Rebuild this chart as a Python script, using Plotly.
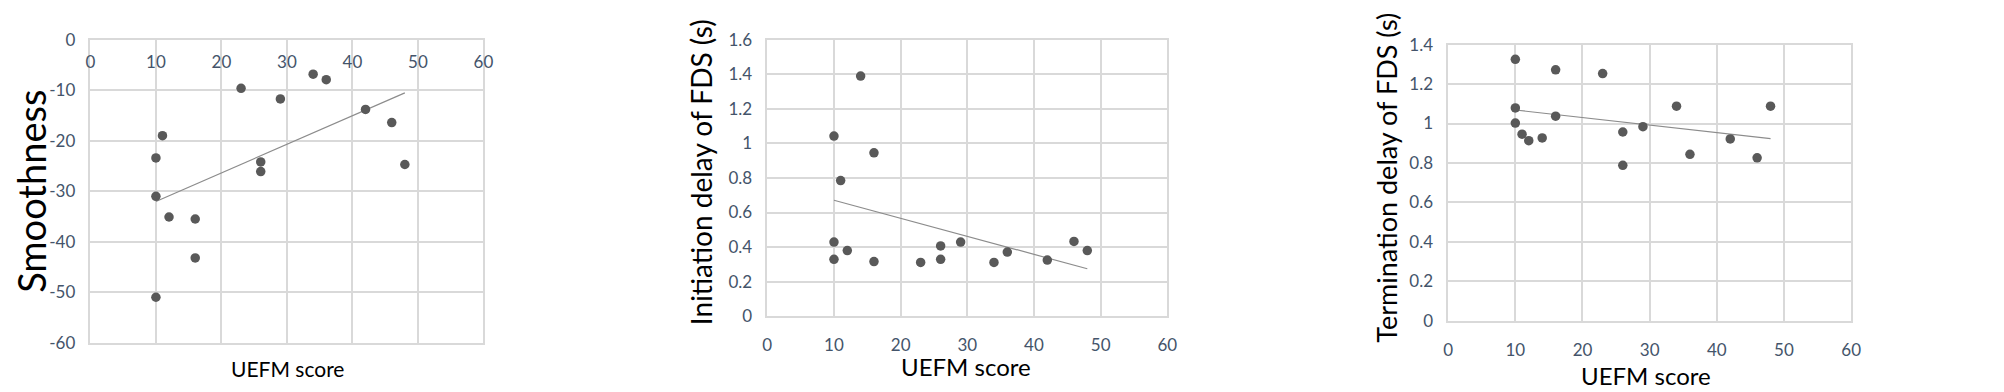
import numpy as np
import plotly.graph_objects as go

# ---------------- data ----------------
uefm_smooth = [10, 10, 10, 11, 12, 16, 16, 23, 26, 26, 29, 34, 36, 42, 46, 48]
smoothness = [-23.4, -31.0, -51.0, -19.0, -35.1, -35.5, -43.2, -9.6, -24.2, -26.1,
              -11.7, -6.8, -7.9, -13.8, -16.4, -24.7]

uefm_init = [10, 10, 10, 11, 12, 14, 16, 16, 23, 26, 26, 29, 34, 36, 42, 46, 48]
init_delay = [1.043, 0.429, 0.329, 0.785, 0.380, 1.390, 0.946, 0.316, 0.311, 0.407,
              0.329, 0.429, 0.311, 0.371, 0.325, 0.433, 0.380]

uefm_term = [10, 10, 10, 11, 12, 14, 16, 16, 23, 26, 26, 29, 34, 36, 42, 46, 48]
term_delay = [1.325, 1.079, 1.002, 0.946, 0.913, 0.927, 1.272, 1.037, 1.253, 0.957,
              0.788, 0.984, 1.088, 0.844, 0.922, 0.826, 1.088]

x_ticks = [0, 10, 20, 30, 40, 50, 60]
smooth_ticks = [-60, -50, -40, -30, -20, -10, 0]
smooth_tick_labels = ["-60", "-50", "-40", "-30", "-20", "-10", "0"]
init_ticks = [0, 0.2, 0.4, 0.6, 0.8, 1.0, 1.2, 1.4, 1.6]
init_tick_labels = ["0", "0.2", "0.4", "0.6", "0.8", "1", "1.2", "1.4", "1.6"]
term_ticks = [0, 0.2, 0.4, 0.6, 0.8, 1.0, 1.2, 1.4]
term_tick_labels = ["0", "0.2", "0.4", "0.6", "0.8", "1", "1.2", "1.4"]

x_title = "UEFM score"
y_titles = ["Smoothness", "Initiation delay of FDS (s)", "Termination delay of FDS (s)"]

# ---------------- style ----------------
W, H = 2004, 392
FONT = "Lato"
TICK_COLOR = "#44546A"
GRID = "#d9d9d9"
MARKER = "#595959"
TREND = "#8c8c8c"
TICKFONT = dict(family=FONT, size=17, color=TICK_COLOR)

def px_x(v):
    return v / W

def px_y(v):
    return 1 - v / H

fig = go.Figure()

panels = [
    dict(x=uefm_smooth, y=smoothness, xd=(78, 474), yd=(22, 342),
         yr=(smooth_ticks[0], smooth_ticks[-1]), tv=smooth_ticks, tt=smooth_tick_labels),
    dict(x=uefm_init, y=init_delay, xd=(760, 1163), yd=(22, 314),
         yr=(init_ticks[0], init_ticks[-1]), tv=init_ticks, tt=init_tick_labels),
    dict(x=uefm_term, y=term_delay, xd=(1446, 1852), yd=(27, 319),
         yr=(term_ticks[0], term_ticks[-1]), tv=term_ticks, tt=term_tick_labels),
]

for i, p in enumerate(panels, start=1):
    xa = "x" if i == 1 else f"x{i}"
    ya = "y" if i == 1 else f"y{i}"
    xs = np.array(p["x"], dtype=float)
    ys = np.array(p["y"], dtype=float)
    slope, icpt = np.polyfit(xs, ys, 1)
    xt = np.array([xs.min(), xs.max()])
    fig.add_trace(go.Scatter(x=xt, y=slope * xt + icpt, mode="lines",
                             line=dict(color=TREND, width=1.2),
                             xaxis=xa, yaxis=ya, showlegend=False, hoverinfo="skip"))
    fig.add_trace(go.Scatter(x=xs, y=ys, mode="markers",
                             marker=dict(color=MARKER, size=9.5),
                             xaxis=xa, yaxis=ya, showlegend=False))

    xkey = "xaxis" if i == 1 else f"xaxis{i}"
    ykey = "yaxis" if i == 1 else f"yaxis{i}"
    xaxis = dict(domain=[px_x(p["xd"][0]), px_x(p["xd"][1])],
                 range=[x_ticks[0], x_ticks[-1]], tickvals=x_ticks,
                 anchor=ya, showgrid=True, gridcolor=GRID, gridwidth=1.5,
                 showline=True, linecolor=GRID, linewidth=1.5, mirror=True,
                 zeroline=False, ticks="", tickfont=TICKFONT, fixedrange=True,
                 side="bottom", ticklabelstandoff=13, ticklabeloverflow="allow")
    if i == 1:
        xaxis.update(showticklabels=False)
    yaxis = dict(domain=[px_y(p["yd"][1]), px_y(p["yd"][0])], range=list(p["yr"]),
                 tickvals=p["tv"], ticktext=p["tt"], anchor=xa, showgrid=True,
                 gridcolor=GRID, gridwidth=1.5, showline=True, linecolor=GRID,
                 linewidth=1.5, mirror=True, zeroline=False, ticks="",
                 ticklabelstandoff=10, ticklabeloverflow="allow",
                 tickfont=TICKFONT, fixedrange=True)
    if i == 1:
        # panel 1's big y title is the axis title itself (no annotation box)
        yaxis.update(title=dict(text=y_titles[0], standoff=0,
                                font=dict(family=FONT, size=38, color="#000000")))
    fig.update_layout({xkey: xaxis, ykey: yaxis})

# panel 1: x tick labels sit just below the top (y = 0) axis line, inside the plot
fig.update_layout(xaxis4=dict(overlaying="x", matches="x", range=[x_ticks[0], x_ticks[-1]],
                              tickvals=x_ticks, anchor="free", position=px_y(22),
                              side="bottom", showgrid=False, showline=False, zeroline=False,
                              ticks="", ticklabelstandoff=10, ticklabeloverflow="allow",
                              tickfont=TICKFONT, fixedrange=True))
fig.add_trace(go.Scatter(x=[x_ticks[0], x_ticks[-1]], y=[None, None], xaxis="x4", yaxis="y",
                         mode="markers", showlegend=False, hoverinfo="skip"))

# remaining axis titles as annotations
annots = [
    # (text, x_px, y_px, size, angle)
    (x_title, 277, 369, 21, 0),
    (y_titles[1], 694, 162, 28, -90),
    (x_title, 960, 367, 24, 0),
    (y_titles[2], 1383, 168, 27, -90),
    (x_title, 1645, 377, 24, 0),
]
for text, xp, yp, size, ang in annots:
    fig.add_annotation(text=text, x=px_x(xp), y=px_y(yp), xref="paper", yref="paper",
                       xanchor="center", yanchor="middle", showarrow=False, textangle=ang,
                       font=dict(family=FONT, size=size, color="#000000"))

fig.update_layout(width=W, height=H, margin=dict(l=0, r=0, t=0, b=0),
                  paper_bgcolor="white", plot_bgcolor="white")

fig.write_html("out.html")
